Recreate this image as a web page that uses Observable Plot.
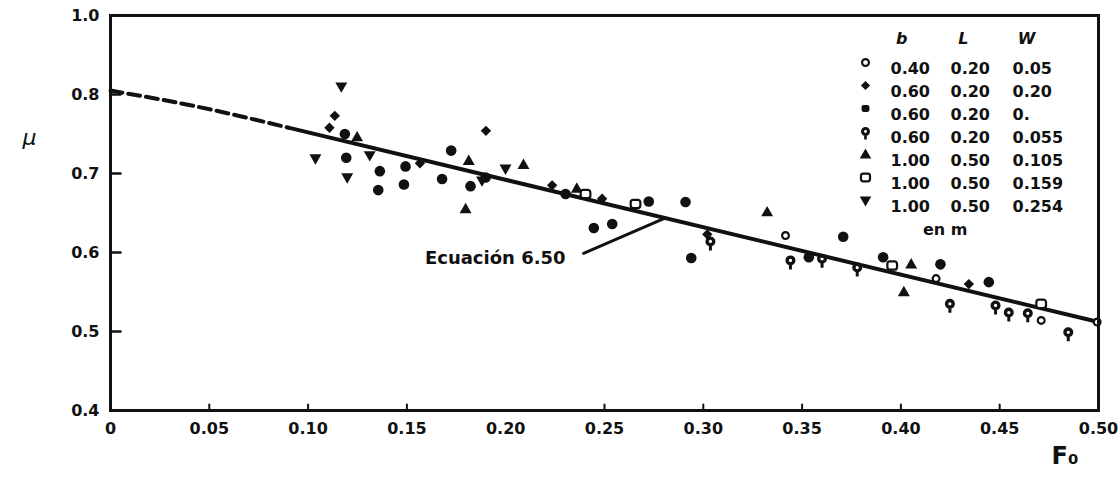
<!DOCTYPE html>
<html>
<head>
<meta charset="utf-8">
<script src="https://cdn.jsdelivr.net/npm/d3@7"></script>
<script src="https://cdn.jsdelivr.net/npm/@observablehq/plot@0.6"></script>
<style>
  html, body { margin: 0; padding: 0; background: #fff; }
  #chart { width: 1120px; height: 485px; }
</style>
</head>
<body>
<div id="chart"></div>
<script>
// ---- Axis ticks ----
const xTicks = [0, 0.05, 0.10, 0.15, 0.20, 0.25, 0.30, 0.35, 0.40, 0.45, 0.50];
const xTickLabels = ["0", "0.05", "0.10", "0.15", "0.20", "0.25", "0.30", "0.35", "0.40", "0.45", "0.50"];
const xTickMarks = [0.05, 0.10, 0.15, 0.25, 0.30, 0.35, 0.40, 0.45];
const yTicks = [0.4, 0.5, 0.6, 0.7, 0.8, 0.9];
const yTickLabels = ["0.4", "0.5", "0.6", "0.7", "0.8", "1.0"];
const yTickMarks = [0.5, 0.6, 0.7, 0.8];

// ---- Legend table ----
const legendB = ["0.40", "0.60", "0.60", "0.60", "1.00", "1.00", "1.00"];
const legendL = ["0.20", "0.20", "0.20", "0.20", "0.50", "0.50", "0.50"];
const legendW = ["0.05", "0.20", "0.", "0.055", "0.105", "0.159", "0.254"];
const legendHeaders = ["b", "L", "W"];
const legendUnit = "en m";

// ---- Series (F0, mu) ----
const s1F  = [0.3416, 0.4178, 0.471, 0.4993];
const s1Mu = [0.6215, 0.567, 0.514, 0.512];

const s2F  = [0.1135, 0.1108, 0.1566, 0.190, 0.2235, 0.2488, 0.302, 0.4344];
const s2Mu = [0.773, 0.758, 0.713, 0.754, 0.685, 0.668, 0.623, 0.560];

const s3F  = [0.1186, 0.1193, 0.1363, 0.1355, 0.1493, 0.1485, 0.1724, 0.1678, 0.1822, 0.1898, 0.2303, 0.2446, 0.2539, 0.2724, 0.291, 0.2939, 0.3534, 0.3708, 0.391, 0.42, 0.4445];
const s3Mu = [0.750, 0.720, 0.703, 0.679, 0.709, 0.686, 0.729, 0.693, 0.684, 0.695, 0.674, 0.631, 0.636, 0.6646, 0.664, 0.593, 0.594, 0.620, 0.594, 0.585, 0.5625];

const s4F  = [0.3036, 0.3441, 0.3601, 0.3779, 0.4248, 0.4479, 0.4546, 0.4642, 0.4847];
const s4Mu = [0.614, 0.590, 0.592, 0.581, 0.535, 0.533, 0.524, 0.523, 0.499];

const s5F  = [0.1248, 0.1813, 0.1797, 0.209, 0.236, 0.3323, 0.4052, 0.4015];
const s5Mu = [0.746, 0.716, 0.655, 0.711, 0.681, 0.651, 0.585, 0.550];

const s6F  = [0.2404, 0.2657, 0.3956, 0.471];
const s6Mu = [0.674, 0.6615, 0.5835, 0.535];

const s7F  = [0.1168, 0.1037, 0.1312, 0.1198, 0.188, 0.1999];
const s7Mu = [0.810, 0.719, 0.723, 0.695, 0.691, 0.706];

// ---- Fitted curve (Ecuación 6.50) ----
const fitDashF = [0, 0.045, 0.09];
const fitDashMu = [0.805, 0.784, 0.758];
const fitF = [0.09, 0.50];
const fitMu = [0.758, 0.512];
const leaderF = [0.2394, 0.280];
const leaderMu = [0.599, 0.643];
const annotation = "Ecuación 6.50";

// ---- custom symbols ----
const rad = s => Math.sqrt(s / Math.PI);
const symTriUp = {draw(c, s) { const r = rad(s); c.moveTo(0, -r * 1.2); c.lineTo(r * 1.15, r * 0.8); c.lineTo(-r * 1.15, r * 0.8); c.closePath(); }};
const symTriDown = {draw(c, s) { const r = rad(s); c.moveTo(-r * 1.15, -r * 0.8); c.lineTo(r * 1.15, -r * 0.8); c.lineTo(0, r * 1.2); c.closePath(); }};
const symDiamond = {draw(c, s) { const r = rad(s); c.moveTo(0, -r * 1.0); c.lineTo(r * 1.0, 0); c.lineTo(0, r * 1.0); c.lineTo(-r * 1.0, 0); c.closePath(); }};
const symPin = {draw(c, s) {
  const r = rad(s);
  c.moveTo(r, 0); c.arc(0, 0, r, 0, 2 * Math.PI); c.closePath();
  const h = r * 0.33; c.moveTo(h, 0); c.arc(0, 0, h, 0, 2 * Math.PI, true); c.closePath();
  c.rect(-r * 0.3, r * 0.6, r * 0.6, r * 1.2);
}};
const symRoundBox = {draw(c, s) {
  const r = rad(s); const w = r * 1.05, h = r * 0.9, k = r * 0.55;
  c.moveTo(-w + k, -h); c.lineTo(w - k, -h); c.arcTo(w, -h, w, -h + k, k); c.lineTo(w, h - k);
  c.arcTo(w, h, w - k, h, k); c.lineTo(-w + k, h); c.arcTo(-w, h, -w, h - k, k); c.lineTo(-w, -h + k);
  c.arcTo(-w, -h, -w + k, -h, k); c.closePath();
}};
const symCircle = {draw(c, s) { const r = rad(s); c.moveTo(r, 0); c.arc(0, 0, r, 0, 2 * Math.PI); c.closePath(); }};

const ink = "#111";
const series = [
  {f: s1F, mu: s1Mu, symbol: symCircle, r: 3.4, hollow: true, lr: 3.4},
  {f: s2F, mu: s2Mu, symbol: symDiamond, r: 5.2, hollow: false, lr: 4.6},
  {f: s3F, mu: s3Mu, symbol: symCircle, r: 5.3, hollow: false, lr: 3.8, lsymbol: symRoundBox},
  {f: s4F, mu: s4Mu, symbol: symPin, r: 5, hollow: false, lr: 4.5},
  {f: s5F, mu: s5Mu, symbol: symTriUp, r: 5.2, hollow: false, lr: 5},
  {f: s6F, mu: s6Mu, symbol: symRoundBox, r: 4.6, hollow: true, lr: 4.3},
  {f: s7F, mu: s7Mu, symbol: symTriDown, r: 5.2, hollow: false, lr: 5}
];

const dotMarks = series.map(s => Plot.dot(s.f.map((f, i) => ({f, mu: s.mu[i]})), {
  x: "f", y: "mu", symbol: s.symbol, r: s.r,
  fill: s.hollow ? "white" : ink, stroke: s.hollow ? ink : "none", strokeWidth: s.hollow ? 2.2 : 0
}));

// legend marks (anchored to the frame's top-right corner)
const legendMarks = [];
const colDx = {marker: -233, b: -208, L: -148, W: -86};
legendHeaders.forEach((h, j) => {
  legendMarks.push(Plot.text([h], {text: d => d, frameAnchor: "top-right", dx: [-191, -130, -63][j], dy: 17, fontStyle: "italic", fontSize: 16}));
});
series.forEach((s, i) => {
  const dy = 47 + i * 23;
  legendMarks.push(Plot.dot([0], {frameAnchor: "top-right", dx: colDx.marker, dy, symbol: s.lsymbol || s.symbol, r: s.lr,
    fill: s.hollow ? "white" : ink, stroke: s.hollow ? ink : "none", strokeWidth: s.hollow ? 2.2 : 0}));
  legendMarks.push(Plot.text([legendB[i]], {text: d => d, frameAnchor: "top-right", dx: colDx.b, dy, textAnchor: "start"}));
  legendMarks.push(Plot.text([legendL[i]], {text: d => d, frameAnchor: "top-right", dx: colDx.L, dy, textAnchor: "start"}));
  legendMarks.push(Plot.text([legendW[i]], {text: d => d, frameAnchor: "top-right", dx: colDx.W, dy, textAnchor: "start"}));
});
legendMarks.push(Plot.text([legendUnit], {text: d => d, frameAnchor: "top-right", dx: -131, dy: 208}));

const chart = Plot.plot({
  width: 1120,
  height: 485,
  marginLeft: 110,
  marginRight: 22,
  marginTop: 15,
  marginBottom: 75,
  x: {domain: [0, 0.5], label: null},
  y: {domain: [0.4, 0.9], label: null},
  style: {fontFamily: "DejaVu Sans", fontSize: "16px", fontWeight: "bold", background: "white", color: ink},
  marks: [
    Plot.axisX({ticks: xTicks, tickFormat: d => xTickLabels[xTicks.indexOf(d)], tickSize: 0, tickPadding: 12, label: null, fontSize: 16}),
    Plot.axisY({ticks: yTicks, tickFormat: d => yTickLabels[yTicks.indexOf(d)], tickSize: 0, tickPadding: 11, label: null, fontSize: 16}),
    Plot.vector(xTickMarks, {x: d => d, frameAnchor: "bottom", length: 6, rotate: 0, anchor: "start", r: 0, strokeWidth: 2, stroke: ink}),
    Plot.vector(yTickMarks, {y: d => d, frameAnchor: "left", length: 10, rotate: 90, anchor: "start", r: 0, strokeWidth: 2.5, stroke: ink}),
    Plot.line(fitDashF.map((f, i) => ({f, mu: fitDashMu[i]})), {x: "f", y: "mu", stroke: ink, strokeWidth: 4, strokeDasharray: "12,6", curve: "natural"}),
    Plot.line(fitF.map((f, i) => ({f, mu: fitMu[i]})), {x: "f", y: "mu", stroke: ink, strokeWidth: 4}),
    Plot.line(leaderF.map((f, i) => ({f, mu: leaderMu[i]})), {x: "f", y: "mu", stroke: ink, strokeWidth: 3}),
    Plot.text([annotation], {x: () => leaderF[0], y: () => leaderMu[0], text: d => d, textAnchor: "end", dx: -18, dy: 5, fontSize: 18}),
    ...dotMarks,
    ...legendMarks,
    Plot.text(["μ"], {text: d => d, frameAnchor: "top-left", dx: -88, dy: 114, fontSize: 22, fontStyle: "italic", fontWeight: "normal"}),
    Plot.text(["F₀"], {text: d => d, frameAnchor: "bottom-right", dx: -20, dy: 53, fontSize: 24}),
    Plot.frame({stroke: ink, strokeWidth: 3})
  ]
});
document.getElementById("chart").appendChild(chart);
</script>
</body>
</html>
